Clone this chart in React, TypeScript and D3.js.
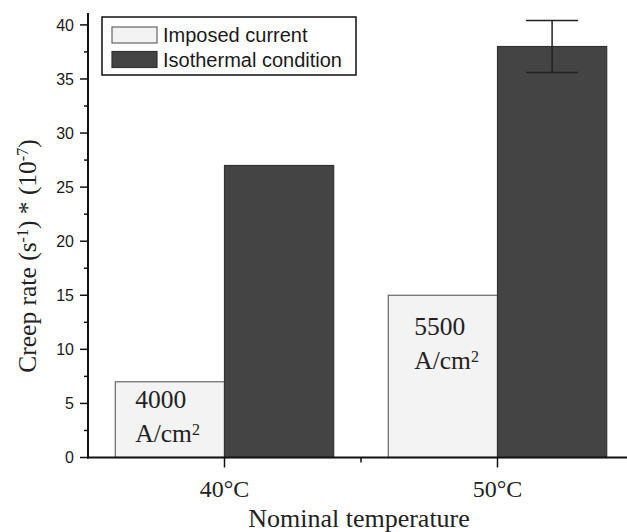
import React, { useEffect, useRef } from "react";
import * as d3 from "d3";

const categories = ["40℃", "50℃"];
const categoryLabels = ["40°C", "50°C"];
const seriesNames = ["Imposed current", "Isothermal condition"];
const imposedValues = [7, 15];
const isothermalValues = [27, 38];
const isothermalErrors = [0, 2.4];
const currentLabels = ["4000", "5500"];
const currentLabelLevels = [4.6, 11.3];
const yTicks = [0, 5, 10, 15, 20, 25, 30, 35, 40];

const WIDTH = 627;
const HEIGHT = 532;

export default function App() {
  const ref = useRef<SVGSVGElement | null>(null);

  useEffect(() => {
    const svg = d3.select(ref.current);
    svg.selectAll("*").remove();

    const left = 88;
    const bottom = 457.5;
    const top = 13;

    const y = d3.scaleLinear().domain([0, 41.1]).range([bottom, top]);
    const x = d3
      .scaleBand()
      .domain(categories)
      .range([left, left + 546])
      .paddingInner(0)
      .paddingOuter(0);
    const bw = x.bandwidth() * 0.4;
    const center = (c: string) => (x(c) as number) + x.bandwidth() / 2;

    const g = svg.append("g");

    // bars
    categories.forEach((c, i) => {
      const cx = center(c);
      g.append("rect")
        .attr("x", cx - bw)
        .attr("y", y(imposedValues[i]))
        .attr("width", bw)
        .attr("height", bottom - y(imposedValues[i]))
        .attr("fill", "#f3f3f3")
        .attr("stroke", "#666")
        .attr("stroke-width", 1.2);
      g.append("rect")
        .attr("x", cx)
        .attr("y", y(isothermalValues[i]))
        .attr("width", bw)
        .attr("height", bottom - y(isothermalValues[i]))
        .attr("fill", "#444")
        .attr("stroke", "#333")
        .attr("stroke-width", 1.2);

      if (isothermalErrors[i] > 0) {
        const ex = cx + bw / 2;
        const hi = y(isothermalValues[i] + isothermalErrors[i]);
        const lo = y(isothermalValues[i] - isothermalErrors[i]);
        g.append("line")
          .attr("x1", ex).attr("x2", ex).attr("y1", hi).attr("y2", lo)
          .attr("stroke", "#222").attr("stroke-width", 1.5);
        [hi, lo].forEach((yy) => {
          g.append("line")
            .attr("x1", ex - 26).attr("x2", ex + 26).attr("y1", yy).attr("y2", yy)
            .attr("stroke", "#222").attr("stroke-width", 1.5);
        });
      }

      const t = g.append("text")
        .attr("font-family", "'Liberation Serif', 'Times New Roman', serif")
        .attr("font-size", 25.5)
        .attr("fill", "#222");
      const tx = cx - bw + (i === 0 ? 20 : 26);
      t.append("tspan")
        .attr("x", tx)
        .attr("y", y(currentLabelLevels[i]))
        .text(currentLabels[i]);
      t.append("tspan")
        .attr("x", tx)
        .attr("dy", 34)
        .text("A/cm");
      t.append("tspan")
        .attr("font-size", 16)
        .attr("dy", -7)
        .text("2");
    });

    // y axis
    g.append("line")
      .attr("x1", left).attr("x2", left).attr("y1", top).attr("y2", bottom + 1)
      .attr("stroke", "#111").attr("stroke-width", 2);
    yTicks.forEach((v) => {
      g.append("line")
        .attr("x1", left - 8).attr("x2", left).attr("y1", y(v)).attr("y2", y(v))
        .attr("stroke", "#111").attr("stroke-width", 1.5);
      g.append("text")
        .attr("x", left - 14)
        .attr("y", y(v))
        .attr("dy", "0.36em")
        .attr("text-anchor", "end")
        .attr("font-family", "'Liberation Sans', Arial, sans-serif")
        .attr("font-size", 16)
        .attr("fill", "#1a1a1a")
        .text(v);
    });
    d3.range(2.5, 40, 5).forEach((v) => {
      g.append("line")
        .attr("x1", left - 4).attr("x2", left).attr("y1", y(v)).attr("y2", y(v))
        .attr("stroke", "#111").attr("stroke-width", 1.5);
    });

    // x axis
    g.append("line")
      .attr("x1", left - 1).attr("x2", WIDTH).attr("y1", bottom).attr("y2", bottom)
      .attr("stroke", "#111").attr("stroke-width", 2);
    categories.forEach((c, i) => {
      const cx = center(c);
      g.append("line")
        .attr("x1", cx).attr("x2", cx).attr("y1", bottom).attr("y2", bottom + 10)
        .attr("stroke", "#111").attr("stroke-width", 1.5);
      g.append("text")
        .attr("x", cx)
        .attr("y", 497)
        .attr("text-anchor", "middle")
        .attr("font-family", "'Liberation Serif', 'Times New Roman', serif")
        .attr("font-size", 24)
        .attr("fill", "#222")
        .text(categoryLabels[i]);
    });
    const mid = (center(categories[0]) + center(categories[1])) / 2;
    g.append("line")
      .attr("x1", mid).attr("x2", mid).attr("y1", bottom).attr("y2", bottom + 5)
      .attr("stroke", "#111").attr("stroke-width", 1.5);

    // axis titles
    g.append("text")
      .attr("x", 359)
      .attr("y", 527)
      .attr("text-anchor", "middle")
      .attr("font-family", "'Liberation Serif', 'Times New Roman', serif")
      .attr("font-size", 26)
      .attr("fill", "#222")
      .text("Nominal temperature");

    const yl = g.append("text")
      .attr("transform", `translate(36,256) rotate(-90)`)
      .attr("text-anchor", "middle")
      .attr("font-family", "'Liberation Serif', 'Times New Roman', serif")
      .attr("font-size", 25.5)
      .attr("fill", "#222");
    yl.append("tspan").text("Creep rate (s");
    yl.append("tspan").attr("font-size", 16).attr("dy", -8).text("-1");
    yl.append("tspan").attr("dy", 8).text(") * (10");
    yl.append("tspan").attr("font-size", 16).attr("dy", -8).text("-7");
    yl.append("tspan").attr("dy", 8).text(")");

    // legend
    const lg = g.append("g");
    lg.append("rect")
      .attr("x", 102).attr("y", 17).attr("width", 254).attr("height", 58)
      .attr("fill", "#fff").attr("stroke", "#111").attr("stroke-width", 1.5);
    const swatchFill = ["#f3f3f3", "#444"];
    const swatchStroke = ["#666", "#333"];
    seriesNames.forEach((name, i) => {
      const sy = 27 + i * 24.5;
      lg.append("rect")
        .attr("x", 112).attr("y", sy).attr("width", 45).attr("height", 16)
        .attr("fill", swatchFill[i]).attr("stroke", swatchStroke[i]).attr("stroke-width", 1.2);
      lg.append("text")
        .attr("x", 163)
        .attr("y", sy + 15)
        .attr("font-family", "'Liberation Sans', Arial, sans-serif")
        .attr("font-size", 20)
        .attr("fill", "#1a1a1a")
        .text(name);
    });
  }, []);

  return (
    <svg
      ref={ref}
      width={WIDTH}
      height={HEIGHT}
      style={{ position: "absolute", left: 0, top: 0, background: "#fff" }}
    />
  );
}
